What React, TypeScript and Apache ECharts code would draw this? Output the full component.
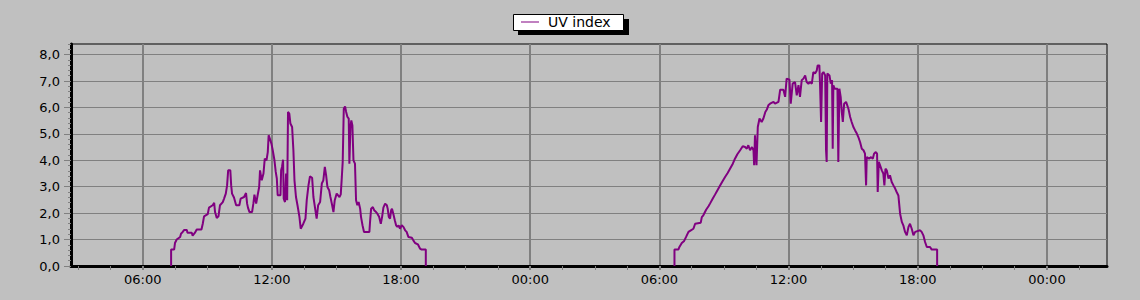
import React, { useEffect, useRef } from 'react';
import * as echarts from 'echarts';

// Day 1 readings: hour of day and UV index
const day1Hours = [7.32,7.32,7.46,7.50,7.58,7.74,7.78,7.86,7.92,8.05,
  8.08,8.28,8.32,8.42,8.51,8.73,8.79,8.85,9.02,9.08,
  9.25,9.32,9.36,9.44,9.52,9.59,9.72,9.78,9.86,9.92,
  9.97,10.07,10.11,10.15,10.24,10.34,10.49,10.55,10.71,10.80,
  10.85,10.89,10.96,11.08,11.14,11.19,11.27,11.33,11.41,11.45,
  11.53,11.61,11.67,11.75,11.81,11.85,11.92,11.98,12.04,12.12,
  12.18,12.23,12.27,12.40,12.43,12.47,12.52,12.55,12.61,12.66,
  12.71,12.75,12.81,12.86,12.94,13.00,13.05,13.12,13.19,13.28,
  13.34,13.46,13.56,13.62,13.70,13.77,13.87,13.93,14.01,14.08,
  14.15,14.24,14.32,14.39,14.46,14.52,14.58,14.66,14.72,14.80,
  14.86,14.92,15.01,15.14,15.20,15.25,15.29,15.34,15.40,15.45,
  15.51,15.57,15.60,15.65,15.69,15.74,15.79,15.86,15.91,15.97,
  16.03,16.10,16.14,16.21,16.28,16.53,16.56,16.61,16.69,16.75,
  16.84,16.90,16.98,17.06,17.12,17.18,17.26,17.34,17.38,17.43,
  17.49,17.54,17.58,17.64,17.71,17.77,17.83,17.89,17.95,18.03,
  18.11,18.19,18.26,18.34,18.50,18.57,18.65,18.78,18.88,18.96,
  19.15,19.15];
const day1UV = [0,0.62,0.62,0.87,1.0,1.10,1.22,1.29,1.36,1.36,
  1.26,1.26,1.15,1.25,1.38,1.38,1.60,1.88,1.96,2.21,
  2.30,2.39,2.04,1.82,1.88,2.30,2.42,2.55,2.74,3.05,
  3.62,3.62,3.05,2.74,2.59,2.30,2.30,2.55,2.61,2.76,
  2.36,2.21,2.04,2.04,2.36,2.70,2.36,2.64,2.99,3.62,
  3.24,3.50,4.06,4.00,4.31,4.95,4.78,4.63,4.38,4.00,
  3.56,3.31,2.68,2.68,3.62,3.75,4.02,2.55,2.42,3.50,
  2.49,5.83,5.77,5.39,5.26,4.38,3.24,2.61,2.30,1.86,
  1.41,1.60,1.79,2.49,3.05,3.39,3.34,2.61,2.17,1.79,
  2.30,2.42,3.12,3.24,3.75,3.43,2.99,2.87,2.61,2.30,
  2.04,2.49,2.74,2.61,2.71,3.37,3.94,5.95,6.04,5.83,
  5.64,5.58,3.87,5.26,5.51,5.32,4.00,3.87,2.49,2.30,
  2.42,2.17,1.86,1.54,1.29,1.29,1.67,2.17,2.23,2.11,
  2.04,1.98,1.86,1.60,1.86,2.21,2.36,2.30,2.17,1.86,
  1.79,2.11,2.17,1.98,1.73,1.54,1.48,1.54,1.41,1.54,
  1.48,1.35,1.29,1.10,1.07,0.97,0.87,0.82,0.66,0.62,
  0.62,0];

// Day 2 readings: hour of day and UV index
const day2Hours = [6.70,6.70,6.88,6.93,7.04,7.15,7.24,7.35,7.46,7.58,
  7.66,7.92,7.97,8.04,8.17,8.28,8.35,8.48,8.59,8.69,
  8.82,8.94,9.05,9.17,9.28,9.41,9.51,9.62,9.75,9.87,
  9.98,10.06,10.13,10.21,10.30,10.37,10.40,10.44,10.51,10.57,
  10.65,10.75,10.83,10.92,10.99,11.06,11.14,11.30,11.37,11.53,
  11.61,11.76,11.84,11.91,12.04,12.10,12.19,12.30,12.38,12.46,
  12.53,12.61,12.69,12.77,12.84,12.92,13.00,13.08,13.15,13.23,
  13.31,13.35,13.43,13.46,13.51,13.56,13.62,13.70,13.74,13.77,
  13.80,13.90,13.96,14.02,14.05,14.08,14.14,14.27,14.31,14.36,
  14.42,14.47,14.52,14.58,14.67,14.78,14.86,14.93,15.01,15.09,
  15.17,15.24,15.32,15.40,15.48,15.55,15.60,15.63,15.74,15.83,
  15.91,15.97,16.05,16.11,16.14,16.19,16.25,16.33,16.40,16.45,
  16.50,16.56,16.64,16.71,16.79,16.87,16.95,17.02,17.10,17.18,
  17.26,17.33,17.41,17.49,17.57,17.64,17.72,17.80,17.88,18.11,
  18.18,18.26,18.34,18.42,18.57,18.65,18.90,18.90];
const day2UV = [0,0.62,0.62,0.72,0.87,0.95,1.10,1.29,1.35,1.41,
  1.60,1.64,1.85,1.92,2.13,2.26,2.36,2.55,2.71,2.86,
  3.05,3.22,3.37,3.52,3.68,3.87,4.06,4.23,4.38,4.53,
  4.50,4.44,4.57,4.38,4.50,4.38,3.81,4.95,3.81,5.26,
  5.58,5.45,5.58,5.83,5.92,6.08,6.14,6.21,6.14,6.21,
  6.67,6.67,6.40,7.09,7.05,6.14,6.90,6.96,6.46,6.84,
  6.40,7.03,7.09,7.21,6.96,6.90,6.96,6.90,7.34,7.28,
  7.40,7.59,7.59,6.90,5.45,7.28,7.34,7.21,4.38,3.94,
  7.28,7.21,6.90,7.03,4.44,6.84,6.71,6.71,3.94,6.71,
  6.40,5.83,5.45,6.14,6.21,5.95,5.64,5.45,5.26,5.13,
  5.01,4.88,4.69,4.44,4.38,4.25,3.05,4.12,4.06,4.12,
  4.06,4.25,4.31,4.25,2.80,3.94,3.81,3.62,3.50,3.05,
  3.68,3.62,3.31,3.43,3.18,3.05,2.93,2.80,2.67,1.98,
  1.67,1.54,1.29,1.16,1.48,1.60,1.41,1.16,1.29,1.35,
  1.29,1.16,0.91,0.72,0.72,0.62,0.62,0];

const seriesName = 'UV index';
const yTickValues = [0, 1, 2, 3, 4, 5, 6, 7, 8];
const xMajorHours = [6, 12, 18, 24, 30, 36, 42, 48];
const xMinorHours = [3, 4.5, 6, 7.5, 9, 10.5, 12, 13.5, 15, 16.5, 18, 19.5, 21, 22.5, 24, 25.5,
  27, 28.5, 30, 31.5, 33, 34.5, 36, 37.5, 39, 40.5, 42, 43.5, 45, 46.5, 48, 49.5];
const xMin = 2.67;
const xMax = 50.79;
const yMax = 8.4;

const FONT = 'DejaVu Sans';
const GRID_GRAY = '#808080';

function fmtHour(v: number) {
  const h = Math.round(((v % 24) + 24) % 24);
  return String(h).padStart(2, '0') + ':00';
}

function buildData() {
  const out: any[] = [];
  const n1 = Math.min(day1Hours.length, day1UV.length);
  for (let i = 0; i < n1; i++) out.push([day1Hours[i], day1UV[i]]);
  out.push([(day1Hours[n1 - 1] + 24 + day2Hours[0]) / 2, '-']);
  const n2 = Math.min(day2Hours.length, day2UV.length);
  for (let i = 0; i < n2; i++) out.push([day2Hours[i] + 24, day2UV[i]]);
  return out;
}

export default function App() {
  const ref = useRef<HTMLDivElement>(null);
  useEffect(() => {
    if (!ref.current) return;
    const chart = echarts.init(ref.current, null, { renderer: 'svg' });
    chart.setOption({
      animation: false,
      backgroundColor: '#c0c0c0',
      textStyle: { fontFamily: FONT },
      grid: {
        left: 71, right: 33, top: 44, bottom: 34,
        show: true, borderColor: '#000', borderWidth: 1, backgroundColor: 'transparent',
      },
      graphic: [
        { type: 'rect', z: 0, shape: { x: 518, y: 19, width: 111, height: 16 }, style: { fill: '#000' } },
        { type: 'rect', z: 1, shape: { x: 513.5, y: 14.5, width: 110, height: 16 }, style: { fill: '#fff', stroke: '#000', lineWidth: 1 } },
      ],
      legend: {
        z: 10,
        left: 521, top: 15, padding: 0,
        itemWidth: 18, itemHeight: 1,
        icon: 'rect',
        data: [{ name: seriesName, icon: 'rect' }],
        itemStyle: { color: '#800080' },
        textStyle: { color: '#000', fontSize: 14, fontFamily: FONT, padding: [0, 0, 0, 4] },
      },
      xAxis: [
        {
          type: 'value', min: xMin, max: xMax, position: 'bottom',
          axisLine: { show: true, onZero: false, lineStyle: { color: '#000', width: 3 } },
          axisTick: { show: true, customValues: xMajorHours, length: 4, lineStyle: { color: GRID_GRAY, width: 2 } },
          axisLabel: { customValues: xMajorHours, formatter: fmtHour, color: '#000', fontSize: 13, fontFamily: FONT, margin: 7 },
          splitLine: { show: true, lineStyle: { color: GRID_GRAY, width: 2 } },
        },
        {
          type: 'value', min: xMin, max: xMax, position: 'bottom', offset: 0,
          axisLine: { show: false },
          axisTick: { show: true, customValues: xMinorHours, length: 4, lineStyle: { color: GRID_GRAY, width: 1 } },
          axisLabel: { show: false },
          splitLine: { show: false },
        },
      ],
      yAxis: [
        {
          type: 'value', min: 0, max: yMax, interval: 1, position: 'left',
          axisLine: { show: true, onZero: false, lineStyle: { color: '#000', width: 3 } },
          axisTick: { show: true, customValues: yTickValues, length: 7, lineStyle: { color: GRID_GRAY, width: 1 } },
          axisLabel: {
            customValues: yTickValues,
            formatter: (v: number) => v.toFixed(1).replace('.', ','),
            color: '#000', fontSize: 13, fontFamily: FONT, margin: 11,
          },
          splitLine: { show: true, lineStyle: { color: GRID_GRAY, width: 1 } },
        },
        {
          type: 'value', min: 0, max: yMax, interval: 0.2, position: 'left', offset: 0,
          axisLine: { show: false },
          axisTick: { show: true, length: 3, lineStyle: { color: GRID_GRAY, width: 1 } },
          axisLabel: { show: false },
          splitLine: { show: false },
        },
      ],
      series: [
        {
          name: seriesName, type: 'line', xAxisIndex: 0, yAxisIndex: 0,
          data: buildData(), symbol: 'none', showSymbol: false, connectNulls: false,
          lineStyle: { color: '#800080', width: 2 }, itemStyle: { color: '#800080' },
        },
      ],
    });
    return () => chart.dispose();
  }, []);
  return <div ref={ref} style={{ position: 'fixed', left: 0, top: 0, width: 1140, height: 300 }} />;
}
